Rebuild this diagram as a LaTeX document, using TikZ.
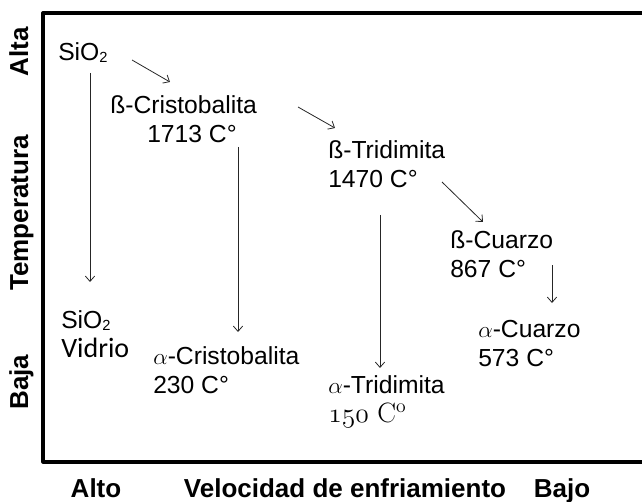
\documentclass[tikz,border=0pt]{standalone}
\usepackage{fontspec}
\newfontfamily\arial{Liberation Sans}
\newfontfamily\calib{Carlito}
\usetikzlibrary{arrows.meta}

\newcommand{\sub}[1]{\raisebox{-1.5pt}{\fontsize{11}{11}\selectfont #1}}

\begin{document}
\begin{tikzpicture}[
    x=0.75pt, y=-0.75pt,
    txt/.style={inner sep=0pt, anchor=north west, align=left,
        font=\arial\fontsize{18.5}{22}\selectfont},
    lbl/.style={inner sep=0pt, anchor=base, font=\arial\bfseries\fontsize{19.5}{22}\selectfont},
    axis/.style={line width=2.4pt, line join=round},
    trans/.style={->, line width=0.6pt, black!85},
    >={Straight Barb[length=4pt, width=7pt]}
]
    \useasboundingbox (0,0) rectangle (642,502);

    % marco
    \draw[axis] (642,13) -- (43,13) -- (43,462) -- (642,462);

    % etiquetas de los ejes
    \node[lbl, rotate=90] (alta) at (28,52) {Alta};
    \node[lbl, rotate=90] (temp) at (28,213) {Temperatura};
    \node[lbl, rotate=90] (baja) at (28,382) {Baja};
    \node[lbl] (alto) at (96,497) {Alto};
    \node[lbl] (veloc) at (345,497) {Velocidad de enfriamiento};
    \node[lbl] (bajo) at (562,497) {Bajo};

    % fases
    \node[txt] (sio) at (58,42) {SiO\sub{2}};
    \node[txt] (bcris) at (110,95) {ß-Cristobalita\\\hspace*{27.75pt}1713 C°};
    \node[txt] (btrid) at (328,140) {ß-Tridimita\\1470 C°};
    \node[txt] (bcuar) at (450,230) {ß-Cuarzo\\867 C°};
    \node[txt] (vid) at (61,310) {SiO\sub{2}\\{\calib\fontsize{21}{22}\selectfont Vidrio}};
    \node[txt] (acris) at (153,346) {$\alpha$-Cristobalita\\230 C°};
    \node[txt] (atrid) at (328,375) {$\alpha$-Tridimita\\{\normalfont\fontsize{21}{22}\selectfont $\mathnormal{150}$ C\textsuperscript{o}}};
    \node[txt] (acuar) at (478,320) {$\alpha$-Cuarzo\\573 C°};

    % transformaciones
    \draw[trans] ([shift={(74,18)}]sio.north west) -- ([shift={(60,-13)}]bcris.north west);
    \draw[trans] ([shift={(32,31)}]sio.north west) -- ([shift={(29,-28)}]vid.north west);
    \draw[trans] ([shift={(128,52)}]bcris.north west) -- ([shift={(85,-14)}]acris.north west);
    \draw[trans] ([shift={(188,12)}]bcris.north west) -- ([shift={(7,-12)}]btrid.north west);
    \draw[trans] ([shift={(114,42)}]btrid.north west) -- ([shift={(33,-8)}]bcuar.north west);
    \draw[trans] ([shift={(52,75)}]btrid.north west) -- ([shift={(52,-7)}]atrid.north west);
    \draw[trans] ([shift={(102,35)}]bcuar.north west) -- ([shift={(74,-17)}]acuar.north west);
\end{tikzpicture}
\end{document}
